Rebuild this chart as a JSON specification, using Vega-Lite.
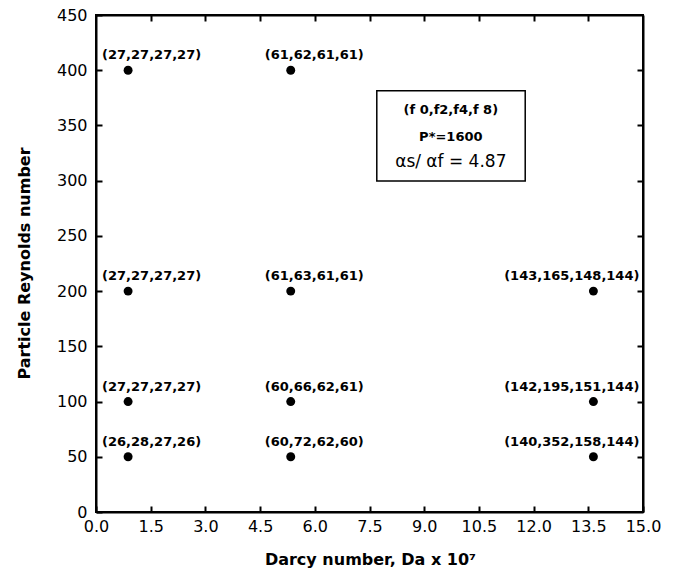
{
  "$schema": "https://vega.github.io/schema/vega-lite/v6.json",
  "width": 547,
  "height": 497,
  "autosize": {"type": "none"},
  "padding": {"left": 96, "top": 15, "right": 33, "bottom": 63},
  "background": "white",
  "config": {
    "view": {"stroke": "black", "strokeWidth": 2},
    "axis": {
      "domainColor": "black",
      "domainWidth": 2,
      "tickColor": "black",
      "tickWidth": 2,
      "tickSize": -6,
      "grid": false,
      "labelFont": "DejaVu Sans",
      "labelFontSize": 16,
      "labelColor": "black",
      "labelFlush": false,
      "labelOverlap": false,
      "titleFont": "DejaVu Sans",
      "titleFontSize": 16,
      "titleFontWeight": "bold",
      "titleColor": "black"
    }
  },
  "datasets": {
    "pts": [
      {"da": 0.88, "re": 400, "label": "(27,27,27,27)"},
      {"da": 0.88, "re": 200, "label": "(27,27,27,27)"},
      {"da": 0.88, "re": 100, "label": "(27,27,27,27)"},
      {"da": 0.88, "re": 50, "label": "(26,28,27,26)"},
      {"da": 5.34, "re": 400, "label": "(61,62,61,61)"},
      {"da": 5.34, "re": 200, "label": "(61,63,61,61)"},
      {"da": 5.34, "re": 100, "label": "(60,66,62,61)"},
      {"da": 5.34, "re": 50, "label": "(60,72,62,60)"},
      {"da": 13.64, "re": 200, "label": "(143,165,148,144)"},
      {"da": 13.64, "re": 100, "label": "(142,195,151,144)"},
      {"da": 13.64, "re": 50, "label": "(140,352,158,144)"}
    ]
  },
  "layer": [
    {
      "data": {"name": "pts"},
      "mark": {"type": "point", "filled": true, "color": "black", "opacity": 1, "size": 80},
      "encoding": {
        "x": {"field": "da", "type": "quantitative",
          "scale": {"domain": [0, 15], "nice": false},
          "axis": {"orient": "bottom", "values": [0, 1.5, 3, 4.5, 6, 7.5, 9, 10.5, 12, 13.5, 15], "format": ".1f",
            "labelPadding": 12, "title": "Darcy number, Da x 10⁷", "titleX": 274, "titleY": 47, "titleBaseline": "middle"}},
        "y": {"field": "re", "type": "quantitative",
          "scale": {"domain": [0, 450], "nice": false},
          "axis": {"orient": "left", "values": [0, 50, 100, 150, 200, 250, 300, 350, 400, 450],
            "labelPadding": 15, "title": "Particle Reynolds number", "titleX": -72, "titleY": 248, "titleBaseline": "middle"}}
      }
    },
    {
      "data": {"name": "pts"},
      "mark": {"type": "point", "opacity": 0},
      "encoding": {
        "x": {"field": "da", "type": "quantitative",
          "axis": {"orient": "top", "values": [1.5, 3, 4.5, 6, 7.5, 9, 10.5, 12, 13.5], "labels": false, "title": null}},
        "y": {"field": "re", "type": "quantitative",
          "axis": {"orient": "right", "values": [50, 100, 150, 200, 250, 300, 350, 400], "labels": false, "title": null}}
      }
    },
    {
      "data": {"name": "pts"},
      "transform": [{"filter": "datum.da < 10"}],
      "mark": {"type": "text", "align": "left", "baseline": "middle", "dx": -26, "dy": -15, "font": "DejaVu Sans", "fontSize": 13, "fontWeight": "bold", "color": "black"},
      "encoding": {
        "x": {"field": "da", "type": "quantitative", "axis": null},
        "y": {"field": "re", "type": "quantitative", "axis": null},
        "text": {"field": "label"}
      }
    },
    {
      "data": {"name": "pts"},
      "transform": [{"filter": "datum.da > 10"}],
      "mark": {"type": "text", "align": "right", "baseline": "middle", "dx": 46, "dy": -15, "font": "DejaVu Sans", "fontSize": 13, "fontWeight": "bold", "color": "black"},
      "encoding": {
        "x": {"field": "da", "type": "quantitative", "axis": null},
        "y": {"field": "re", "type": "quantitative", "axis": null},
        "text": {"field": "label"}
      }
    },
    {
      "data": {"values": [{"x1": 7.7, "x2": 11.77, "y1": 299.7, "y2": 381.5}]},
      "mark": {"type": "rect", "fill": "white", "stroke": "black", "strokeWidth": 1.5},
      "encoding": {
        "x": {"field": "x1", "type": "quantitative", "axis": null},
        "x2": {"field": "x2"},
        "y": {"field": "y1", "type": "quantitative", "axis": null},
        "y2": {"field": "y2"}
      }
    },
    {
      "data": {"values": [
        {"x": 9.73, "y": 364, "t": "(f 0,f2,f4,f 8)"},
        {"x": 9.73, "y": 339.5, "t": "P*=1600"}
      ]},
      "mark": {"type": "text", "align": "center", "baseline": "middle", "font": "DejaVu Sans", "fontSize": 13, "fontWeight": "bold", "color": "black"},
      "encoding": {
        "x": {"field": "x", "type": "quantitative", "axis": null},
        "y": {"field": "y", "type": "quantitative", "axis": null},
        "text": {"field": "t"}
      }
    },
    {
      "data": {"values": [{"x": 9.73, "y": 317, "t": "αs/ αf = 4.87"}]},
      "mark": {"type": "text", "align": "center", "baseline": "middle", "font": "DejaVu Sans", "fontSize": 17, "color": "black"},
      "encoding": {
        "x": {"field": "x", "type": "quantitative", "axis": null},
        "y": {"field": "y", "type": "quantitative", "axis": null},
        "text": {"field": "t"}
      }
    }
  ],
  "resolve": {"axis": {"x": "independent", "y": "independent"}}
}
